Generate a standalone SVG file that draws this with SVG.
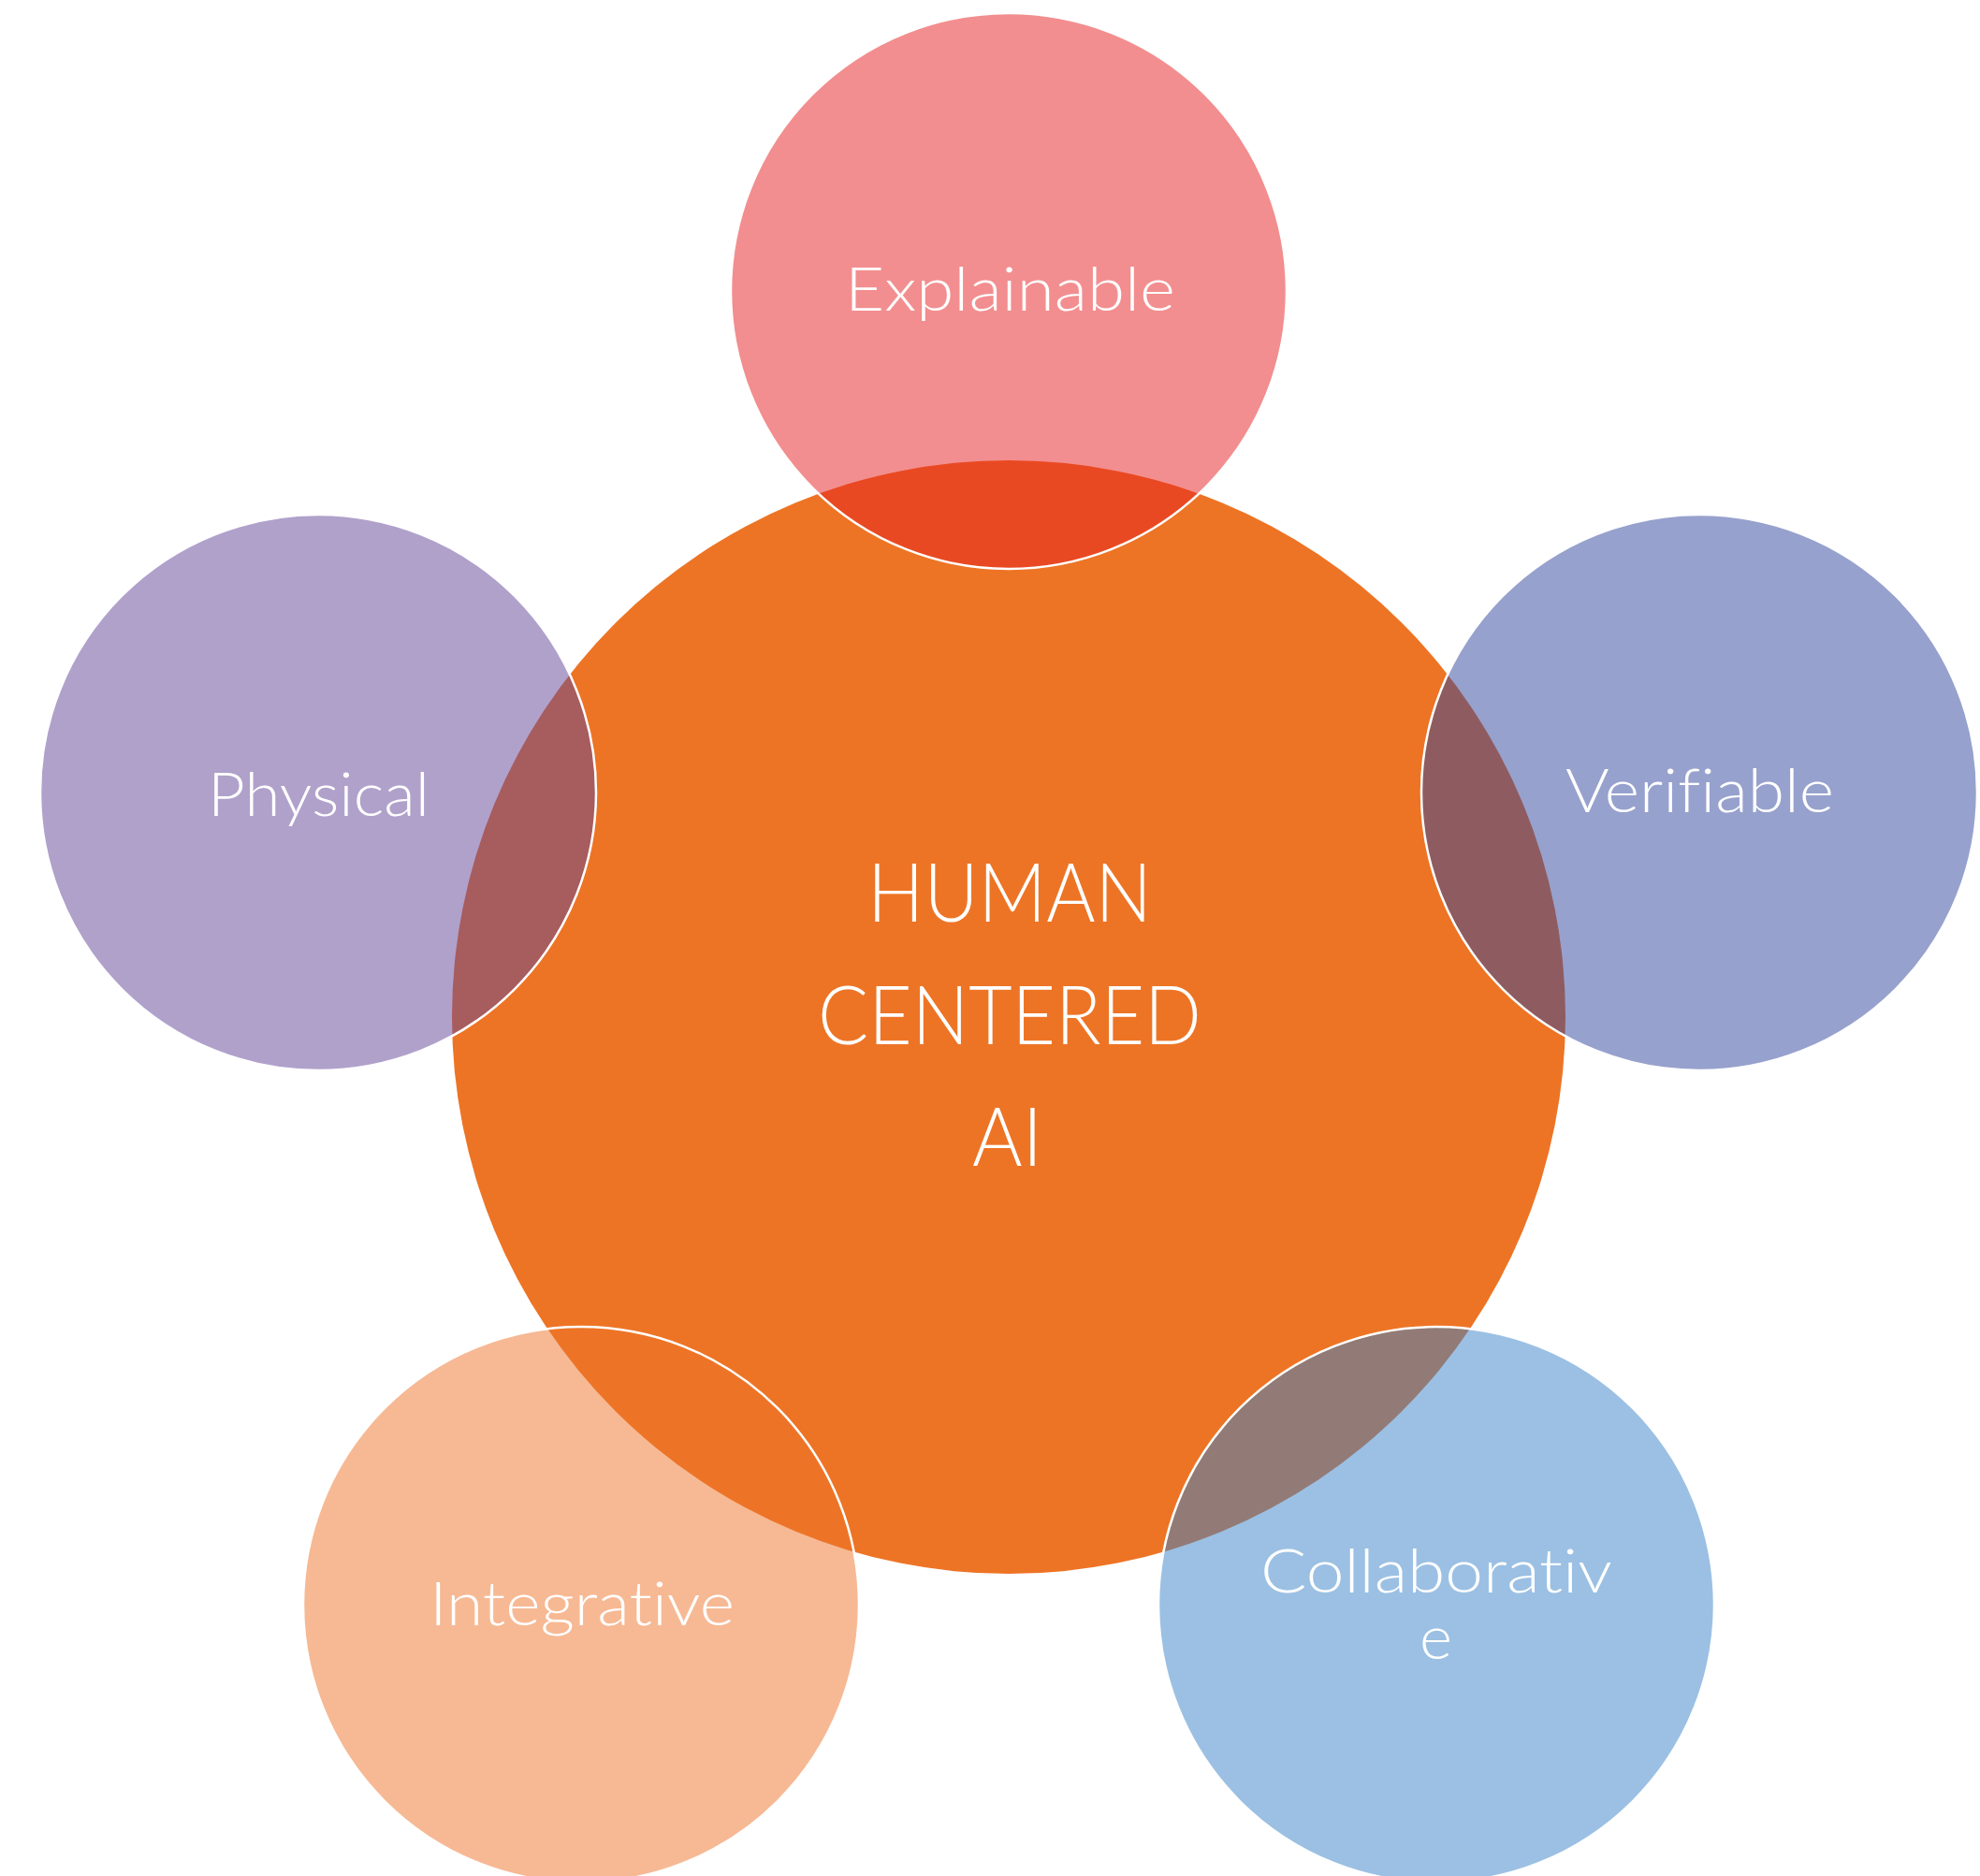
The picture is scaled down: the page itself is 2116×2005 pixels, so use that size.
<svg xmlns="http://www.w3.org/2000/svg" width="2116" height="2005" viewBox="0 0 2116 2005">
  <style>
    .bg { fill: #ffffff; }
    .hub { fill: #ED7425; }
    .sat { fill-opacity: 0.5; stroke: #ffffff; stroke-width: 2.5; }
    .lbl { fill: #ffffff; font-family: Lato, "Open Sans", "Liberation Sans", sans-serif; font-weight: 300; font-size: 65px; font-variant-ligatures: none; font-feature-settings: "liga" 0, "clig" 0; }
    .hubtxt { font-size: 86px; }
  </style>
  <rect class="bg" x="0" y="0" width="2116" height="2005"/>
  <g id="connectors"></g>
  <g id="node-center">
    <circle class="hub" cx="1078" cy="1087" r="595"/>
  </g>
  <g id="node-explainable">
    <circle class="sat" cx="1078" cy="311" r="297" fill="#E51D1F"/>
  </g>
  <g id="node-physical">
    <circle class="sat" cx="340" cy="847" r="297" fill="#614397"/>
  </g>
  <g id="node-verifiable">
    <circle class="sat" cx="1816" cy="847" r="297" fill="#2F439B"/>
  </g>
  <g id="node-integrative">
    <circle class="sat" cx="621" cy="1715" r="297" fill="#ED7329"/>
  </g>
  <g id="node-collaborative">
    <circle class="sat" cx="1535" cy="1715" r="297" fill="#3781C7"/>
  </g>
  <g id="labels">
    <text class="lbl hubtxt" x="927" y="985" textLength="304" lengthAdjust="spacingAndGlyphs">HUMAN</text>
    <text class="lbl hubtxt" x="874" y="1116" textLength="410" lengthAdjust="spacingAndGlyphs">CENTERED</text>
    <text class="lbl hubtxt" x="1039" y="1246" textLength="75" lengthAdjust="spacingAndGlyphs">AI</text>
    <text class="lbl" x="903" y="332" textLength="353" lengthAdjust="spacingAndGlyphs">Explainable</text>
    <text class="lbl" x="222" y="872" textLength="237" lengthAdjust="spacingAndGlyphs">Physical</text>
    <text class="lbl" x="1673" y="868" textLength="287" lengthAdjust="spacingAndGlyphs">Verifiable</text>
    <text class="lbl" x="459" y="1737" textLength="326" lengthAdjust="spacingAndGlyphs">Integrative</text>
    <text class="lbl" x="1347" y="1702" textLength="376" lengthAdjust="spacingAndGlyphs">Collaborativ</text>
    <text class="lbl" x="1517" y="1773" textLength="35" lengthAdjust="spacingAndGlyphs">e</text>
  </g>
</svg>
